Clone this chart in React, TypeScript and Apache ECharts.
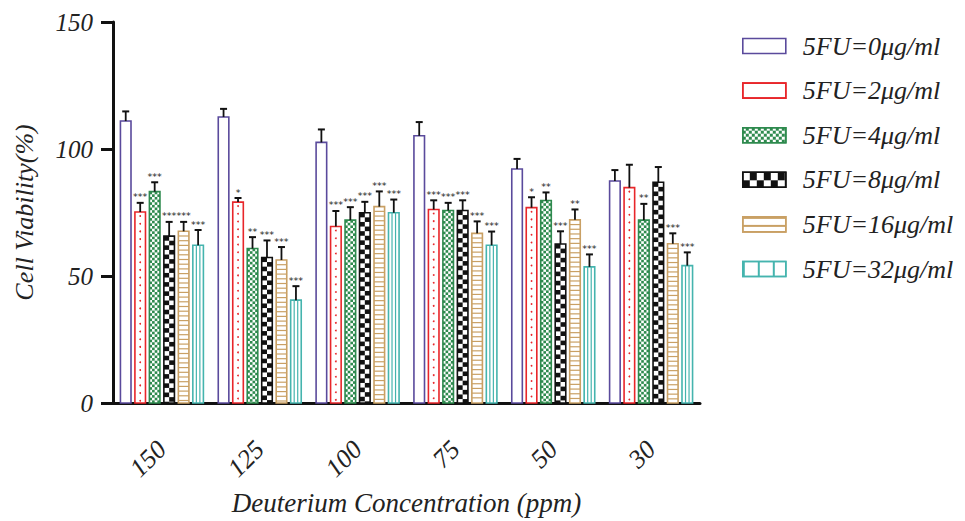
import React, { useEffect, useRef } from "react";
import * as echarts from "echarts";

const categories = ["150", "125", "100", "75", "50", "30"];
const seriesNames = [
  "5FU=0μg/ml",
  "5FU=2μg/ml",
  "5FU=4μg/ml",
  "5FU=8μg/ml",
  "5FU=16μg/ml",
  "5FU=32μg/ml",
];
const colors = ["#5a4a9c", "#e8262a", "#2e8a4e", "#111111", "#c9a064", "#45b4ae"];

const v0 = [111.0, 112.6, 102.6, 105.2, 92.1, 87.4];
const v2 = [75.2, 79.1, 69.5, 76.2, 76.9, 84.8];
const v4 = [83.2, 60.8, 72.0, 75.8, 79.7, 72.0];
const v8 = [65.7, 57.3, 74.9, 75.8, 62.6, 86.9];
const v16 = [67.6, 56.3, 77.3, 66.8, 72.1, 62.7];
const v32 = [62.1, 40.5, 74.9, 62.1, 53.6, 54.1];

const e0 = [3.8, 3.2, 5.1, 5.4, 4.0, 4.3];
const e2 = [3.6, 1.6, 6.1, 3.6, 4.1, 9.0];
const e4 = [3.7, 4.5, 5.1, 3.0, 3.2, 6.4];
const e8 = [5.6, 6.7, 4.3, 4.0, 5.0, 6.0];
const e16 = [3.7, 5.1, 6.0, 4.7, 4.1, 4.1];
const e32 = [6.0, 5.5, 5.2, 5.4, 4.9, 5.2];

const s0 = ["", "", "", "", "", ""];
const s2 = ["***", "*", "***", "***", "*", ""];
const s4 = ["***", "**", "***", "***", "**", "**"];
const s8 = ["***", "***", "***", "***", "***", ""];
const s16 = ["***", "***", "***", "***", "**", "***"];
const s32 = ["***", "***", "***", "***", "***", "***"];

const values = [v0, v2, v4, v8, v16, v32];
const errors = [e0, e2, e4, e8, e16, e32];
const sigs = [s0, s2, s4, s8, s16, s32];

const SERIF = "'Liberation Serif', 'DejaVu Serif', serif";

function makeRenderItem(si: number) {
  return (params: any, api: any) => {
    const ci = api.value(0);
    const v = api.value(1);
    const e = api.value(2);
    const base = api.coord([ci, 0]);
    const top = api.coord([ci, v]);
    const et = api.coord([ci, v + e]);
    const band = api.size([1, 0])[0];
    const pitch = band * 0.148;
    const w = band * 0.108;
    const cx = base[0] + (si - 2.5) * pitch;
    const x0 = cx - w / 2;
    const y0 = top[1];
    const y1 = base[1];
    const h = y1 - y0;
    const color = colors[si];
    const children: any[] = [];
    children.push({
      type: "rect",
      shape: { x: x0, y: y0, width: w, height: h },
      style: { fill: "#fff" },
    });
    if (si === 1) {
      for (let y = y0 + 4; y < y1 - 1; y += 7.7) {
        children.push({
          type: "circle",
          shape: { cx: cx, cy: y, r: 0.9 },
          style: { fill: color },
        });
      }
    } else if (si === 2) {
      const cell = w / 4;
      let r = 0;
      for (let y = y0; y < y1; y += cell, r++) {
        for (let c = 0; c < 4; c++) {
          if ((r + c) % 2 === 0) {
            children.push({
              type: "rect",
              shape: { x: x0 + c * cell, y: y, width: cell, height: Math.min(cell, y1 - y) },
              style: { fill: color },
            });
          }
        }
      }
    } else if (si === 3) {
      const cw = w / 2;
      const chh = 4.6;
      let r = 0;
      for (let y = y0; y < y1; y += chh, r++) {
        const c = r % 2;
        children.push({
          type: "rect",
          shape: { x: x0 + c * cw, y: y, width: cw, height: Math.min(chh, y1 - y) },
          style: { fill: color },
        });
      }
    } else if (si === 4) {
      for (let y = y0 + 4.7; y < y1 - 1; y += 4.7) {
        children.push({
          type: "line",
          shape: { x1: x0, y1: y, x2: x0 + w, y2: y },
          style: { stroke: color, lineWidth: 1.2 },
        });
      }
    } else if (si === 5) {
      for (let k = 1; k <= 2; k++) {
        const x = x0 + (w * k) / 3;
        children.push({
          type: "line",
          shape: { x1: x, y1: y0, x2: x, y2: y1 },
          style: { stroke: color, lineWidth: 1.2 },
        });
      }
    }
    children.push({
      type: "rect",
      shape: { x: x0, y: y0, width: w, height: h },
      style: { fill: "none", stroke: color, lineWidth: 1.6 },
    });
    children.push({
      type: "line",
      shape: { x1: cx, y1: y0, x2: cx, y2: et[1] },
      style: { stroke: "#111", lineWidth: 1.8 },
    });
    children.push({
      type: "line",
      shape: { x1: cx - 3.5, y1: et[1], x2: cx + 3.5, y2: et[1] },
      style: { stroke: "#111", lineWidth: 2 },
    });
    const sig = sigs[si][params.dataIndex];
    if (sig) {
      children.push({
        type: "text",
        x: cx,
        y: et[1] - 1,
        style: {
          text: sig,
          textAlign: "center",
          textVerticalAlign: "bottom",
          fontSize: 9.5,
          fontFamily: "'DejaVu Sans', sans-serif",
          fill: "#222",
        },
      });
    }
    return { type: "group", children };
  };
}

const legendStyles: any[] = [
  { color: "#fff", borderColor: colors[0], borderWidth: 1.6 },
  {
    color: "#fff",
    borderColor: colors[1],
    borderWidth: 1.6,
    decal: {
      symbol: "circle",
      symbolSize: 0.5,
      color: colors[1],
      dashArrayX: [2, 5],
      dashArrayY: [2, 6],
    },
  },
  {
    color: "#fff",
    borderColor: colors[2],
    borderWidth: 1.6,
    decal: {
      symbol: "rect",
      symbolSize: 1,
      color: colors[2],
      dashArrayX: [[3, 3], [0, 3, 3, 0]],
      dashArrayY: [3, 0],
    },
  },
  {
    color: "#fff",
    borderColor: colors[3],
    borderWidth: 1.6,
    decal: {
      symbol: "rect",
      symbolSize: 1,
      color: colors[3],
      dashArrayX: [[7, 7], [0, 7, 7, 0]],
      dashArrayY: [7.5, 0],
    },
  },
  {
    color: "#fff",
    borderColor: colors[4],
    borderWidth: 1.6,
    decal: {
      symbol: "rect",
      symbolSize: 1,
      color: colors[4],
      dashArrayX: [1, 0],
      dashArrayY: [1.5, 6],
    },
  },
  {
    color: "#fff",
    borderColor: colors[5],
    borderWidth: 1.6,
    decal: {
      symbol: "rect",
      symbolSize: 1,
      color: colors[5],
      dashArrayX: [1.6, 12.7],
      dashArrayY: [1, 0],
    },
  },
];

export default function App() {
  const ref = useRef<HTMLDivElement>(null);
  useEffect(() => {
    if (!ref.current) return;
    const chart = echarts.init(ref.current, undefined, { renderer: "svg" });
    const series = values.map((vals, si) => ({
      type: "custom",
      name: seriesNames[si],
      renderItem: makeRenderItem(si),
      itemStyle: { color: colors[si] },
      encode: { x: 0, y: 1 },
      data: vals.map((v, ci) => [ci, v, errors[si][ci]]),
      z: 2,
    }));
    chart.setOption({
      animation: false,
      backgroundColor: "#fff",
      grid: { left: 113, right: 265, top: 22, bottom: 110 },
      legend: {
        orient: "vertical",
        left: 737,
        top: 28,
        icon: "rect",
        itemWidth: 43,
        itemHeight: 15,
        itemGap: 18.6,
        selectedMode: false,
        textStyle: {
          fontFamily: SERIF,
          fontStyle: "italic",
          fontSize: 26,
          color: "#222",
          padding: [0, 0, 0, 12],
        },
        data: seriesNames.map((n, i) => ({ name: n, itemStyle: legendStyles[i] })),
      },
      xAxis: {
        type: "category",
        data: categories,
        name: "Deuterium Concentration (ppm)",
        nameLocation: "middle",
        nameGap: 86,
        nameTextStyle: {
          fontFamily: SERIF,
          fontStyle: "italic",
          fontSize: 27,
          color: "#222",
        },
        axisLine: { lineStyle: { color: "#111", width: 3 } },
        axisTick: { alignWithLabel: true, length: 10, lineStyle: { color: "#111", width: 3 } },
        axisLabel: {
          rotate: 45,
          margin: 42,
          fontFamily: SERIF,
          fontStyle: "italic",
          fontSize: 26,
          color: "#222",
        },
        splitLine: { show: false },
      },
      yAxis: {
        type: "value",
        min: 0,
        max: 150,
        interval: 50,
        name: "Cell Viability(%)",
        nameLocation: "middle",
        nameGap: 76,
        nameTextStyle: {
          fontFamily: SERIF,
          fontStyle: "italic",
          fontSize: 26,
          color: "#222",
        },
        axisLine: { show: true, lineStyle: { color: "#111", width: 3 } },
        axisTick: { show: true, length: 12, lineStyle: { color: "#111", width: 3 } },
        axisLabel: {
          margin: 20,
          fontFamily: SERIF,
          fontStyle: "italic",
          fontSize: 25,
          color: "#222",
        },
        splitLine: { show: false },
      },
      series,
    });
    return () => chart.dispose();
  }, []);
  return <div ref={ref} style={{ width: 965, height: 521, marginLeft: -8, marginTop: -8 }} />;
}
